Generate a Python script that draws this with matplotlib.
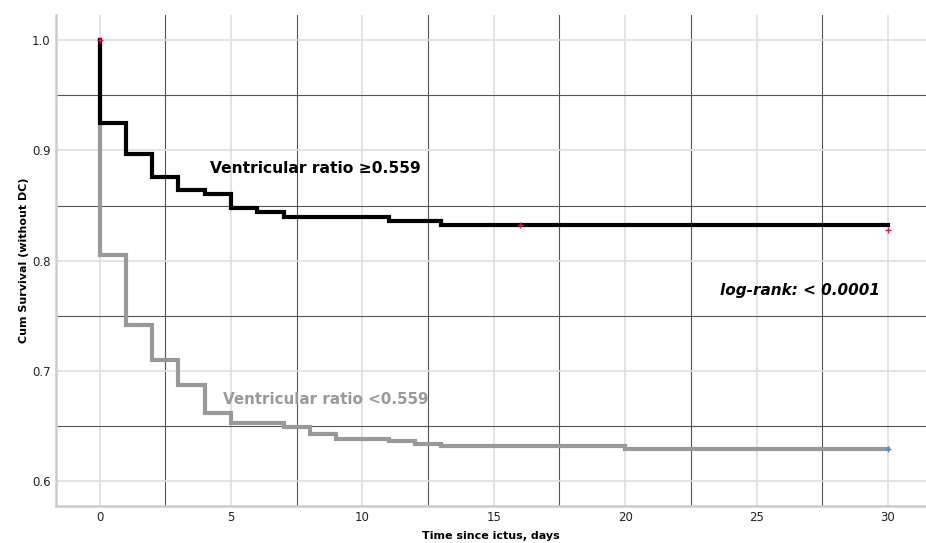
import matplotlib
matplotlib.use("Agg")
import matplotlib.pyplot as plt

# Kaplan-Meier steps (days, cumulative survival)
high_days = [0, 0, 1, 2, 3, 4, 5, 6, 7, 11, 13, 30]
high_surv = [1.0, 0.9245, 0.8963, 0.876, 0.864, 0.8603, 0.848, 0.8443, 0.840, 0.836, 0.832, 0.832]

low_days = [0, 0, 1, 2, 3, 4, 5, 7, 8, 9, 11, 12, 13, 20, 30]
low_surv = [1.0, 0.805, 0.742, 0.7104, 0.6877, 0.662, 0.6532, 0.6493, 0.6426, 0.638,
            0.6363, 0.6342, 0.632, 0.6297, 0.6297]

# censored observations
high_cens_days = [0, 16, 30]
high_cens_surv = [1.0, 0.832, 0.828]
low_cens_days = [30]
low_cens_surv = [0.6297]

x_ticks = [0, 5, 10, 15, 20, 25, 30]
y_ticks = [0.6, 0.7, 0.8, 0.9, 1.0]

W, H = 926, 543
fig = plt.figure(figsize=(W / 100, H / 100), dpi=100)
ax = fig.add_axes([56 / W, (H - 505.7) / H, (W - 56) / W, (505.7 - 15) / H])

gray = "#999999"
ax.step(low_days, low_surv, where="post", color=gray, lw=3, solid_joinstyle="miter", zorder=3)
ax.step(high_days, high_surv, where="post", color="black", lw=3, solid_joinstyle="miter", zorder=4)
ax.plot(high_cens_days, high_cens_surv, "+", color="#e8174a", ms=4, mew=1, zorder=5)
ax.plot(low_cens_days, low_cens_surv, "+", color="#3d8fe0", ms=4, mew=1, zorder=5)

ax.set_xlim(-1.66, 31.45)
ax.set_ylim(0.578, 1.0227)
ax.set_xticks(x_ticks)
ax.set_yticks(y_ticks)
ax.set_yticklabels([f"{v:.1f}" for v in y_ticks])
ax.set_xticks([2.5, 7.5, 12.5, 17.5, 22.5, 27.5], minor=True)
ax.set_yticks([0.65, 0.75, 0.85, 0.95], minor=True)
ax.tick_params(which="both", length=0, labelsize=8.5, colors="#222222", pad=4)

ax.grid(True, which="major", color="#dedede", lw=1.2, zorder=0)
ax.grid(True, which="minor", color="#555555", lw=0.8, zorder=0)
ax.set_axisbelow(True)

for side in ["top", "right"]:
    ax.spines[side].set_visible(False)
for side in ["left", "bottom"]:
    ax.spines[side].set_color("#cccccc")
    ax.spines[side].set_linewidth(1.8)

ax.set_xlabel("Time since ictus, days", fontsize=8, fontweight="bold", labelpad=5)
ax.set_ylabel("Cum Survival (without DC)", fontsize=8, fontweight="bold", labelpad=2)

ax.text(4.2, 0.8794, "Ventricular ratio \u22650.559", fontsize=11.2, fontweight="bold",
        color="black", va="baseline", ha="left")
ax.text(4.7, 0.6705, "Ventricular ratio <0.559", fontsize=10.9, fontweight="bold",
        color=gray, va="baseline", ha="left")
ax.text(29.7, 0.7693, "log-rank: < 0.0001", fontsize=11, fontweight="bold", style="italic",
        color="black", va="baseline", ha="right")

fig.savefig("out.png", dpi=100)
